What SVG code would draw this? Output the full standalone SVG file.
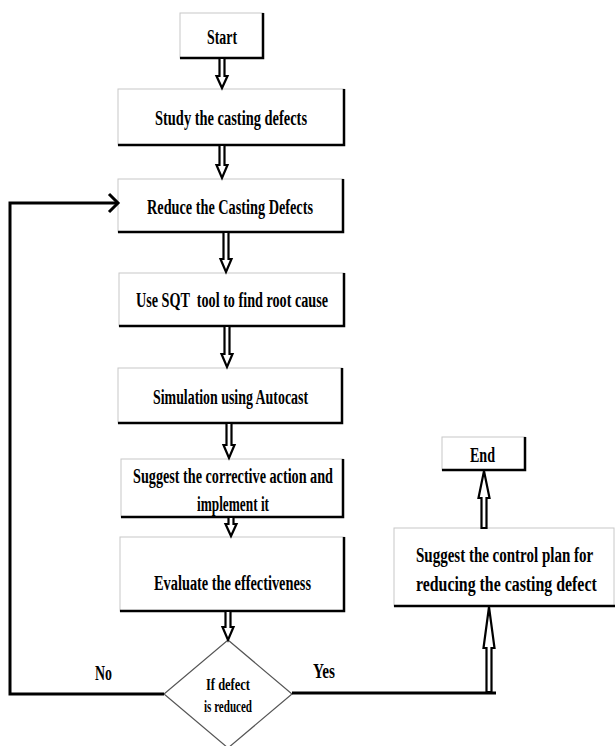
<svg xmlns="http://www.w3.org/2000/svg" width="615" height="746" viewBox="0 0 615 746">
<style>
.box{fill:#fff;stroke:#c8c8c8;stroke-width:1}
.sh{fill:none;stroke:#000;stroke-width:2.5}
.t{font-family:"Liberation Serif","Times New Roman",serif;font-weight:bold;font-size:20px;fill:#000}
.ts{font-family:"Liberation Serif","Times New Roman",serif;font-weight:bold;font-size:16px;fill:#000}
.ba{fill:#fff;stroke:#000;stroke-width:2.2;stroke-linejoin:miter}
.ln{fill:none;stroke:#000;stroke-width:3}
</style>
<rect width="615" height="746" fill="#fff"/>
<g id="start"><rect class="box" x="180" y="13" width="83" height="45"/><polyline class="sh" points="263,13 263,58 180,58"/><text class="t" x="207" y="44" textLength="30" lengthAdjust="spacingAndGlyphs">Start</text></g>
<g id="study"><rect class="box" x="118" y="89" width="226" height="56"/><polyline class="sh" points="344,89 344,145 118,145"/><text class="t" x="155" y="125" textLength="152" lengthAdjust="spacingAndGlyphs">Study the casting defects</text></g>
<g id="reduce"><rect class="box" x="118" y="179" width="225" height="53"/><polyline class="sh" points="343,179 343,232 118,232"/><text class="t" x="147" y="214" textLength="166" lengthAdjust="spacingAndGlyphs">Reduce the Casting Defects</text></g>
<g id="sqt"><rect class="box" x="119" y="273" width="225" height="53"/><polyline class="sh" points="344,273 344,326 119,326"/><text class="t" x="136" y="307" textLength="192" lengthAdjust="spacingAndGlyphs" xml:space="preserve">Use SQT  tool to find root cause</text></g>
<g id="simulation"><rect class="box" x="118" y="368" width="224" height="55"/><polyline class="sh" points="342,368 342,423 118,423"/><text class="t" x="153" y="404" textLength="155" lengthAdjust="spacingAndGlyphs">Simulation using Autocast</text></g>
<g id="corrective"><rect class="box" x="121" y="459" width="222" height="58"/><polyline class="sh" points="343,459 343,517 121,517"/><text class="t" x="133" y="483" textLength="200" lengthAdjust="spacingAndGlyphs">Suggest the corrective action and</text><text class="t" x="197" y="511" textLength="72" lengthAdjust="spacingAndGlyphs">implement it</text></g>
<g id="evaluate"><rect class="box" x="120" y="537" width="224" height="74"/><polyline class="sh" points="344,537 344,611 120,611"/><text class="t" x="154" y="590" textLength="157" lengthAdjust="spacingAndGlyphs">Evaluate the effectiveness</text></g>
<g id="decision"><polygon points="228,640 292,694 228,748 164,694" fill="#fff" stroke="#555" stroke-width="1.2"/><text class="ts" x="206" y="690" textLength="44" lengthAdjust="spacingAndGlyphs">If defect</text><text class="ts" x="204" y="712" textLength="48" lengthAdjust="spacingAndGlyphs">is reduced</text></g>
<g id="control"><rect class="box" x="394" y="528" width="220" height="78"/><polyline class="sh" points="394,606 615,606"/><text class="t" transform="translate(416,562) scale(0.72,1)" x="0" y="0" textLength="246" lengthAdjust="spacingAndGlyphs">Suggest the control plan for</text><text class="t" transform="translate(416,591) scale(0.72,1)" x="0" y="0" textLength="251" lengthAdjust="spacingAndGlyphs">reducing the casting defect</text></g>
<g id="end"><rect class="box" x="442" y="437" width="83" height="33"/><polyline class="sh" points="525,437 525,470 442,470"/><text class="t" x="470" y="462" textLength="25" lengthAdjust="spacingAndGlyphs">End</text></g>
<g id="connectors">
<path class="ba" d="M219.5,58 H224.5 V76 H227.5 L222,88 L216.5,76 H219.5 Z"/>
<path class="ba" d="M219.5,145 H224.5 V165 H227.5 L222,178 L216.5,165 H219.5 Z"/>
<path class="ba" d="M223.5,232 H228.5 V259 H231.5 L226,272 L220.5,259 H223.5 Z"/>
<path class="ba" d="M224.5,326 H229.5 V354 H232.5 L227,367 L221.5,354 H224.5 Z"/>
<path class="ba" d="M226.5,423 H231.5 V445 H234.5 L229,458 L223.5,445 H226.5 Z"/>
<path class="ba" d="M228.5,517 H233.5 V524 H236.5 L231,536 L225.5,524 H228.5 Z"/>
<path class="ba" d="M225.5,611 H230.5 V627 H233.5 L228,640 L222.5,627 H225.5 Z"/>
<path class="ba" d="M481.5,528 H486.5 V498 H489.5 L484,471 L478.5,498 H481.5 Z"/>
<path class="ba" d="M486.5,692 H491.5 V648 H494.5 L489,607 L483.5,648 H486.5 Z"/>
<polyline class="ln" points="164,694 10,694 10,203 118,203"/>
<polyline class="ln" points="109,194 118,203 109,212"/>
<polyline class="ln" points="292,693 496,693"/>
<text class="t" x="95" y="680" textLength="17" lengthAdjust="spacingAndGlyphs">No</text>
<text class="t" x="313" y="678" textLength="22" lengthAdjust="spacingAndGlyphs">Yes</text>
</g>
</svg>
